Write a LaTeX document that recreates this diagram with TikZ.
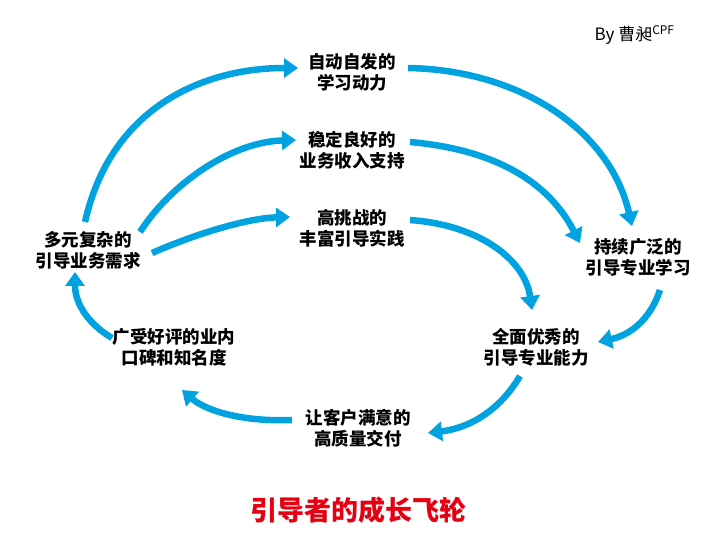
\documentclass[tikz,border=0pt]{standalone}
\usepackage{fontspec}
\setmainfont{Noto Sans CJK SC}
\usetikzlibrary{arrows.meta}
\definecolor{flow}{RGB}{0,163,224}
\definecolor{ttl}{RGB}{230,0,18}
\begin{document}
\begin{tikzpicture}[x=1pt,y=-1pt,
  lab/.style={font=\fontsize{17.5}{21}\selectfont\bfseries, align=center, inner sep=2pt},
  fl/.style={draw=flow, line width=6.5pt, -{Triangle[length=14pt,width=19pt]}}]
\useasboundingbox (0,0) rectangle (720,545);
\node[lab] (a) at (352,72) {自动自发的\\学习动力};
\node[lab] (b) at (352,150) {稳定良好的\\业务收入支持};
\node[lab] (c) at (352,228) {高挑战的\\丰富引导实践};
\node[lab] (d) at (88,250) {多元复杂的\\引导业务需求};
\node[lab] (e) at (638,257) {持续广泛的\\引导专业学习};
\node[lab] (f) at (536,347) {全面优秀的\\引导专业能力};
\node[lab] (g) at (174,347) {广受好评的业内\\口碑和知名度};
\node[lab] (h) at (358,428) {让客户满意的\\高质量交付};
\node[font=\fontsize{27}{32}\selectfont\bfseries, text=ttl] (t) at (358,510) {引导者的成长飞轮};
\node[font=\fontsize{17}{20}\selectfont, anchor=east] (by) at (678,35) {By 曹昶\textsuperscript{CPF}};
\coordinate (a1) at (85,222); \coordinate (a2) at (298,68);
\draw[fl] (a1) .. controls (110,110) and (200,68) .. (a2);
\coordinate (b1) at (408,68); \coordinate (b2) at (632,226);
\draw[fl] (b1) .. controls (520,70) and (610,130) .. (b2);
\coordinate (c1) at (140,232); \coordinate (c2) at (296,140);
\draw[fl] (c1) .. controls (170,185) and (230,142) .. (c2);
\coordinate (d1) at (410,142); \coordinate (d2) at (580,243);
\draw[fl] (d1) .. controls (500,150) and (550,185) .. (d2);
\coordinate (e1) at (152,253); \coordinate (e2) at (290,217);
\draw[fl] (e1) .. controls (200,232) and (250,218) .. (e2);
\coordinate (f1) at (410,220); \coordinate (f2) at (532,310);
\draw[fl] (f1) .. controls (480,225) and (525,260) .. (f2);
\coordinate (g1) at (660,290); \coordinate (g2) at (598,342);
\draw[fl] (g1) .. controls (650,320) and (630,335) .. (g2);
\coordinate (h1) at (520,376); \coordinate (h2) at (428,433);
\draw[fl] (h1) .. controls (500,410) and (470,428) .. (h2);
\coordinate (i1) at (292,420); \coordinate (i2) at (182,390);
\draw[fl] (i1) .. controls (240,422) and (205,410) .. (i2);
\coordinate (j1) at (112,338); \coordinate (j2) at (75,272);
\draw[fl] (j1) .. controls (90,325) and (75,305) .. (j2);
\end{tikzpicture}
\end{document}
